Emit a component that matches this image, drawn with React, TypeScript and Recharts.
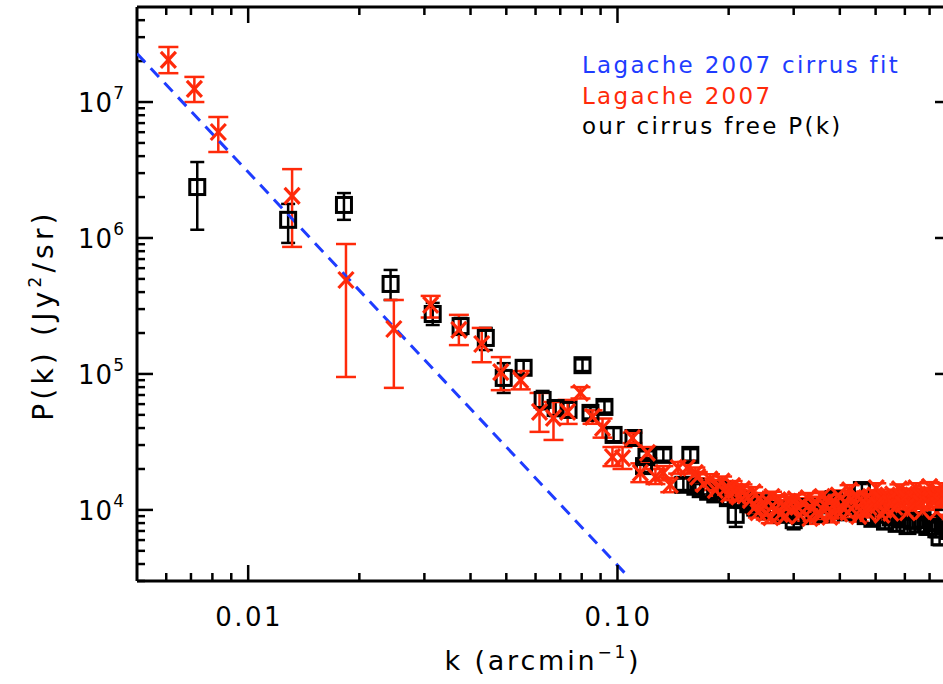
import React from "react";
import { ScatterChart, Scatter, XAxis, YAxis, ErrorBar, ReferenceLine } from "recharts";

const BLUE = "#1e3cff";
const RED = "#ff2a0a";
const FONT = "'DejaVu Sans', sans-serif";

// [k (arcmin^-1), P(k), lower bound, upper bound]
const lagacheMain = [
  [0.00608, 2.04e7, 1.63e7, 2.54e7],
  [0.00715, 1.25e7, 1.0e7, 1.53e7],
  [0.0083, 6.02e6, 4.29e6, 7.76e6],
  [0.01315, 2.04e6, 8.6e5, 3.21e6],
  [0.0184, 4.91e5, 9.5e4, 9.03e5],
  [0.0248, 2.14e5, 7.9e4, 3.5e5],
  [0.0312, 3.22e5, 2.6e5, 3.75e5],
  [0.0372, 2.11e5, 1.63e5, 2.72e5],
  [0.0429, 1.66e5, 1.22e5, 2.18e5],
  [0.0483, 1.03e5, 7.6e4, 1.33e5],
  [0.0547, 9.0e4, 7.7e4, 1.05e5],
  [0.0615, 5.26e4, 3.75e4, 7.25e4],
  [0.0671, 4.75e4, 3.27e4, 6.22e4],
  [0.0733, 5.26e4, 4.29e4, 6.44e4],
  [0.0794, 7.25e4, 6.6e4, 8.0e4],
  [0.0856, 4.83e4, 4.3e4, 5.4e4],
  [0.0911, 4.01e4, 3.4e4, 4.7e4],
  [0.0969, 2.45e4, 2.1e4, 2.9e4],
  [0.1032, 2.4e4, 2.0e4, 2.9e4],
  [0.1098, 3.38e4, 3.1e4, 3.7e4],
  [0.1153, 1.87e4, 1.6e4, 2.2e4],
  [0.1205, 2.63e4, 2.4e4, 2.9e4],
  [0.1267, 1.75e4, 1.55e4, 2.0e4],
  [0.1331, 1.87e4, 1.65e4, 2.1e4],
  [0.139, 1.53e4, 1.35e4, 1.72e4],
  [0.146, 2.04e4, 1.85e4, 2.25e4],
  [0.1546, 2.04e4, 1.85e4, 2.25e4],
  [0.1625, 1.87e4, 1.7e4, 2.05e4],
];

const lagacheCloud = [
  [0.165, 1.75e4, 1.6e4, 1.9e4],
  [0.171, 1.55e4, 1.4e4, 1.7e4],
  [0.178, 1.68e4, 1.53e4, 1.83e4],
  [0.184, 1.4e4, 1.27e4, 1.53e4],
  [0.188, 1.52e4, 1.38e4, 1.66e4],
  [0.192, 1.62e4, 1.48e4, 1.76e4],
  [0.197, 1.45e4, 1.32e4, 1.58e4],
  [0.2, 1.3e4, 1.18e4, 1.42e4],
  [0.205, 1.5e4, 1.37e4, 1.63e4],
  [0.208, 1.38e4, 1.26e4, 1.5e4],
  [0.213, 1.25e4, 1.14e4, 1.36e4],
  [0.218, 1.42e4, 1.3e4, 1.54e4],
  [0.222, 1.28e4, 1.17e4, 1.39e4],
  [0.229, 1.18e4, 1.07e4, 1.29e4],
  [0.233, 1.35e4, 1.23e4, 1.47e4],
  [0.236, 1.05e4, 9.5e3, 1.15e4],
  [0.24, 9.6e3, 8.8e3, 1.05e4],
  [0.242, 1.22e4, 1.11e4, 1.33e4],
  [0.247, 1.12e4, 1.02e4, 1.22e4],
  [0.252, 9.4e3, 8.5e3, 1.03e4],
  [0.256, 1.15e4, 1.05e4, 1.25e4],
  [0.26, 8.8e3, 8.0e3, 9.6e3],
  [0.262, 1.25e4, 1.14e4, 1.36e4],
  [0.268, 1.02e4, 9.3e3, 1.11e4],
  [0.272, 1.18e4, 1.08e4, 1.28e4],
  [0.276, 9.3e3, 8.4e3, 1.02e4],
  [0.282, 1.08e4, 9.8e3, 1.18e4],
  [0.285, 9.0e3, 8.2e3, 9.8e3],
  [0.29, 1.15e4, 1.05e4, 1.25e4],
  [0.296, 1.0e4, 9.1e3, 1.09e4],
  [0.303, 1.2e4, 1.1e4, 1.3e4],
  [0.308, 1.05e4, 9.6e3, 1.14e4],
  [0.312, 9.2e3, 8.3e3, 1.01e4],
  [0.318, 1.12e4, 1.02e4, 1.22e4],
  [0.328, 1.22e4, 1.11e4, 1.33e4],
  [0.332, 8.7e3, 7.9e3, 9.5e3],
  [0.336, 1.02e4, 9.3e3, 1.11e4],
  [0.343, 1.15e4, 1.05e4, 1.25e4],
  [0.35, 9.4e3, 8.5e3, 1.03e4],
  [0.355, 9.2e3, 8.4e3, 1.0e4],
  [0.358, 1.25e4, 1.14e4, 1.36e4],
  [0.364, 1.08e4, 9.8e3, 1.18e4],
  [0.372, 1.18e4, 1.08e4, 1.28e4],
  [0.376, 8.9e3, 8.1e3, 9.7e3],
  [0.38, 9.8e3, 8.9e3, 1.07e4],
  [0.388, 1.12e4, 1.02e4, 1.22e4],
  [0.396, 1.28e4, 1.17e4, 1.39e4],
  [0.4, 9.4e3, 8.6e3, 1.02e4],
  [0.405, 1.05e4, 9.6e3, 1.14e4],
  [0.413, 1.15e4, 1.05e4, 1.25e4],
  [0.421, 9.6e3, 8.7e3, 1.05e4],
  [0.425, 1.4e4, 1.28e4, 1.52e4],
  [0.43, 1.2e4, 1.1e4, 1.3e4],
  [0.44, 1.1e4, 1.0e4, 1.2e4],
  [0.447, 1.25e4, 1.14e4, 1.36e4],
  [0.45, 9.0e3, 8.2e3, 9.8e3],
  [0.454, 1.0e4, 9.1e3, 1.09e4],
  [0.462, 1.15e4, 1.05e4, 1.25e4],
  [0.471, 1.22e4, 1.11e4, 1.33e4],
  [0.475, 9.6e3, 8.8e3, 1.04e4],
  [0.48, 1.05e4, 9.6e3, 1.14e4],
  [0.489, 1.18e4, 1.08e4, 1.28e4],
  [0.498, 1.28e4, 1.17e4, 1.39e4],
  [0.502, 1.45e4, 1.33e4, 1.57e4],
  [0.507, 1.08e4, 9.8e3, 1.18e4],
  [0.517, 1.2e4, 1.1e4, 1.3e4],
  [0.52, 9.2e3, 8.4e3, 1.0e4],
  [0.527, 1.0e4, 9.1e3, 1.09e4],
  [0.537, 1.25e4, 1.14e4, 1.36e4],
  [0.547, 1.12e4, 1.02e4, 1.22e4],
  [0.55, 9.5e3, 8.7e3, 1.03e4],
  [0.556, 1.3e4, 1.19e4, 1.41e4],
  [0.564, 1.05e4, 9.6e3, 1.14e4],
  [0.574, 1.2e4, 1.1e4, 1.3e4],
  [0.58, 1.42e4, 1.3e4, 1.54e4],
  [0.582, 1.28e4, 1.17e4, 1.39e4],
  [0.593, 1.1e4, 1.0e4, 1.2e4],
  [0.604, 1.22e4, 1.11e4, 1.33e4],
  [0.61, 9.6e3, 8.8e3, 1.04e4],
  [0.615, 1.32e4, 1.21e4, 1.43e4],
  [0.627, 1.05e4, 9.6e3, 1.14e4],
  [0.639, 1.2e4, 1.1e4, 1.3e4],
  [0.643, 1.45e4, 1.33e4, 1.57e4],
  [0.651, 1.3e4, 1.19e4, 1.41e4],
  [0.663, 1.12e4, 1.02e4, 1.22e4],
  [0.67, 9.8e3, 9.0e3, 1.06e4],
  [0.676, 1.25e4, 1.14e4, 1.36e4],
  [0.688, 1.33e4, 1.22e4, 1.44e4],
  [0.7, 1.48e4, 1.36e4, 1.6e4],
  [0.702, 1.1e4, 1.0e4, 1.2e4],
  [0.715, 1.28e4, 1.17e4, 1.39e4],
  [0.728, 1.2e4, 1.1e4, 1.3e4],
  [0.732, 9.7e3, 8.9e3, 1.05e4],
  [0.74, 1.35e4, 1.23e4, 1.47e4],
  [0.748, 1.15e4, 1.05e4, 1.25e4],
  [0.76, 1.45e4, 1.33e4, 1.57e4],
  [0.765, 1.25e4, 1.14e4, 1.36e4],
  [0.785, 1.18e4, 1.08e4, 1.28e4],
  [0.79, 1.0e4, 9.2e3, 1.08e4],
];

const cirrusFreeMain = [
  [0.00728, 2.37e6, 1.15e6, 3.62e6],
  [0.01283, 1.36e6, 9.2e5, 1.78e6],
  [0.01817, 1.75e6, 1.36e6, 2.14e6],
  [0.0243, 4.59e5, 3.5e5, 5.82e5],
  [0.0316, 2.76e5, 2.29e5, 3.33e5],
  [0.0376, 2.25e5, 1.94e5, 2.58e5],
  [0.044, 1.84e5, 1.5e5, 2.18e5],
  [0.0492, 9.35e4, 7.25e4, 1.2e5],
  [0.0557, 1.11e5, 9.9e4, 1.25e5],
  [0.0627, 6.44e4, 5.5e4, 7.5e4],
  [0.068, 5.62e4, 4.9e4, 6.4e4],
  [0.0737, 5.44e4, 4.8e4, 6.2e4],
  [0.0804, 1.16e5, 1.05e5, 1.28e5],
  [0.0845, 5.17e4, 4.7e4, 5.7e4],
  [0.0922, 5.72e4, 5.2e4, 6.3e4],
  [0.0976, 3.56e4, 3.2e4, 4.0e4],
  [0.1105, 3.38e4, 3.0e4, 3.8e4],
  [0.118, 2.1e4, 1.9e4, 2.3e4],
  [0.1198, 2.45e4, 2.2e4, 2.7e4],
  [0.1331, 2.54e4, 2.3e4, 2.8e4],
  [0.1508, 1.53e4, 1.4e4, 1.7e4],
  [0.1575, 2.54e4, 2.3e4, 2.8e4],
  [0.1625, 1.48e4, 1.35e4, 1.62e4],
];

const cirrusFreeCloud = [
  [0.168, 1.42e4, 1.3e4, 1.55e4],
  [0.176, 1.36e4, 1.25e4, 1.48e4],
  [0.184, 1.3e4, 1.18e4, 1.42e4],
  [0.192, 1.4e4, 1.28e4, 1.52e4],
  [0.199, 1.22e4, 1.1e4, 1.34e4],
  [0.209, 9.2e3, 7.5e3, 1.05e4],
  [0.218, 1.18e4, 1.08e4, 1.3e4],
  [0.226, 1.1e4, 1.0e4, 1.2e4],
  [0.236, 1.04e4, 9.4e3, 1.14e4],
  [0.246, 1.12e4, 1.02e4, 1.22e4],
  [0.256, 9.8e3, 8.8e3, 1.08e4],
  [0.268, 1.0e4, 9.0e3, 1.1e4],
  [0.28, 9.2e3, 8.2e3, 1.02e4],
  [0.29, 9.5e3, 8.6e3, 1.04e4],
  [0.3, 8.4e3, 7.2e3, 9.4e3],
  [0.312, 9.0e3, 8.1e3, 9.9e3],
  [0.325, 1.05e4, 9.6e3, 1.15e4],
  [0.34, 1.0e4, 9.0e3, 1.1e4],
  [0.355, 9.3e3, 8.4e3, 1.02e4],
  [0.37, 1.08e4, 9.8e3, 1.18e4],
  [0.385, 1.2e4, 1.1e4, 1.3e4],
  [0.4, 1.05e4, 9.5e3, 1.15e4],
  [0.415, 9.6e3, 8.7e3, 1.05e4],
  [0.43, 1.1e4, 1.0e4, 1.2e4],
  [0.459, 1.4e4, 1.25e4, 1.55e4],
  [0.47, 9.0e3, 8.0e3, 1.0e4],
  [0.49, 8.6e3, 7.7e3, 9.5e3],
  [0.51, 9.2e3, 8.3e3, 1.01e4],
  [0.53, 8.2e3, 7.3e3, 9.1e3],
  [0.55, 8.8e3, 7.9e3, 9.7e3],
  [0.57, 7.9e3, 7.0e3, 8.8e3],
  [0.59, 8.5e3, 7.6e3, 9.4e3],
  [0.61, 7.6e3, 6.7e3, 8.5e3],
  [0.63, 8.3e3, 7.4e3, 9.2e3],
  [0.65, 7.8e3, 6.9e3, 8.7e3],
  [0.67, 8.4e3, 7.5e3, 9.3e3],
  [0.69, 7.5e3, 6.6e3, 8.4e3],
  [0.71, 8.0e3, 7.1e3, 8.9e3],
  [0.73, 7.2e3, 6.3e3, 8.1e3],
  [0.745, 6.3e3, 5.5e3, 7.1e3],
  [0.77, 7.6e3, 6.8e3, 8.5e3],
  [0.79, 7.0e3, 6.2e3, 7.8e3],
];

// Lagache 2007 cirrus power-law fit, two end points
const fitK = [0.005, 0.105];
const fitP = [2.27e7, 3.4e3];

const xDomain = [0.005, 0.8];
const yDomain = [3000, 5e7];
const xMajor = [0.01, 0.1];
const xMajorLabels = ["0.01", "0.10"];
const xMinor = [0.006, 0.007, 0.008, 0.009, 0.02, 0.03, 0.04, 0.05, 0.06, 0.07, 0.08, 0.09, 0.2, 0.3, 0.4, 0.5, 0.6, 0.7];
const yMajor = [1e4, 1e5, 1e6, 1e7];
const yExponents = ["4", "5", "6", "7"];
const yMinor = [
  3e3, 4e3, 5e3, 6e3, 7e3, 8e3, 9e3,
  2e4, 3e4, 4e4, 5e4, 6e4, 7e4, 8e4, 9e4,
  2e5, 3e5, 4e5, 5e5, 6e5, 7e5, 8e5, 9e5,
  2e6, 3e6, 4e6, 5e6, 6e6, 7e6, 8e6, 9e6,
  2e7, 3e7, 4e7,
];

const toPoints = (rows: number[][]) =>
  rows.map(([k, p, lo, hi]) => ({ k, p, err: [p - lo, hi - p] }));

const redData = toPoints([...lagacheMain, ...lagacheCloud]);
const blackData = toPoints([...cirrusFreeMain, ...cirrusFreeCloud]);
const fitData = fitK.map((k, i) => ({ k, p: fitP[i] }));

// chart frame
const CHART_W = 960;
const CHART_H = 684;
const M_TOP = 7;
const M_RIGHT = 9;
const X_AXIS_H = 103;
const Y_AXIS_W = 137;
const PLOT_RIGHT = CHART_W - M_RIGHT;
const PLOT_W = PLOT_RIGHT - Y_AXIS_W;
const PLOT_H = CHART_H - M_TOP - X_AXIS_H;
const MAJOR_LEN = 16;
const MINOR_LEN = 8;

// minor tick length expressed as a ratio along each log axis
const xMinorRatio = Math.pow(xDomain[1] / xDomain[0], MINOR_LEN / PLOT_W);
const yMinorRatio = Math.pow(yDomain[1] / yDomain[0], MINOR_LEN / PLOT_H);

// major ticks: drawn by the axis, mirrored onto the top frame
const BottomTick = (props: any) => {
  const { x, y, payload } = props;
  const i = xMajor.indexOf(payload.value);
  if (i < 0) return <g />;
  return (
    <g>
      <line x1={x} y1={y} x2={x} y2={y - MAJOR_LEN} stroke="#000" strokeWidth={2.5} />
      <line x1={x} y1={M_TOP} x2={x} y2={M_TOP + MAJOR_LEN} stroke="#000" strokeWidth={2.5} />
      <text x={x + 1} y={y + 45} textAnchor="middle" fontSize={26} fontFamily={FONT} letterSpacing={2.5} fill="#000">
        {xMajorLabels[i]}
      </text>
    </g>
  );
};

// major ticks: drawn by the axis, mirrored onto the right frame
const LeftTick = (props: any) => {
  const { x, y, payload } = props;
  const i = yMajor.indexOf(payload.value);
  if (i < 0) return <g />;
  return (
    <g>
      <line x1={x} y1={y} x2={x + MAJOR_LEN} y2={y} stroke="#000" strokeWidth={2.5} />
      <line x1={PLOT_RIGHT} y1={y} x2={PLOT_RIGHT - MAJOR_LEN} y2={y} stroke="#000" strokeWidth={2.5} />
      <text x={x - 12} y={y + 10} textAnchor="end" fontSize={26} fontFamily={FONT} letterSpacing={1} fill="#000">
        10
        <tspan dy={-13} fontSize={17}>
          {yExponents[i]}
        </tspan>
      </text>
    </g>
  );
};

const SquareMark = ({ cx, cy }: any) => (
  <rect x={cx - 7.5} y={cy - 7.5} width={15} height={15} fill="none" stroke="#000" strokeWidth={3} />
);

const CrossMark = ({ cx, cy }: any) => (
  <g stroke={RED} strokeWidth={3.2}>
    <line x1={cx - 7.5} y1={cy - 8} x2={cx + 7.5} y2={cy + 8} />
    <line x1={cx - 7.5} y1={cy + 8} x2={cx + 7.5} y2={cy - 8} />
  </g>
);

const tickStroke = { stroke: "#000", strokeWidth: 2.5 };

export default function App() {
  return (
    <div style={{ position: "absolute", left: 0, top: 0, width: 943, height: 684, overflow: "hidden", background: "#fff" }}>
      <ScatterChart width={CHART_W} height={CHART_H} margin={{ top: M_TOP, right: M_RIGHT, bottom: 0, left: 0 }}>
        <XAxis
          dataKey="k"
          type="number"
          scale="log"
          domain={xDomain}
          allowDataOverflow
          ticks={xMajor}
          interval={0}
          tick={BottomTick}
          tickLine={false}
          tickSize={0}
          tickMargin={0}
          axisLine={{ stroke: "#000", strokeWidth: 3 }}
          height={X_AXIS_H}
        />
        <YAxis
          dataKey="p"
          type="number"
          scale="log"
          domain={yDomain}
          allowDataOverflow
          ticks={yMajor}
          interval={0}
          tick={LeftTick}
          tickLine={false}
          tickSize={0}
          tickMargin={0}
          axisLine={{ stroke: "#000", strokeWidth: 3 }}
          width={Y_AXIS_W}
        />
        <ReferenceLine y={yDomain[1]} stroke="#000" strokeWidth={3} />
        <ReferenceLine x={xDomain[1]} stroke="#000" strokeWidth={3} />
        {xMinor.map((v) => (
          <ReferenceLine
            key={`xb-${v}`}
            segment={[{ x: v, y: yDomain[0] }, { x: v, y: yDomain[0] * yMinorRatio }]}
            {...tickStroke}
          />
        ))}
        {xMinor.map((v) => (
          <ReferenceLine
            key={`xt-${v}`}
            segment={[{ x: v, y: yDomain[1] }, { x: v, y: yDomain[1] / yMinorRatio }]}
            {...tickStroke}
          />
        ))}
        {yMinor.map((v) => (
          <ReferenceLine
            key={`yl-${v}`}
            segment={[{ x: xDomain[0], y: v }, { x: xDomain[0] * xMinorRatio, y: v }]}
            {...tickStroke}
          />
        ))}
        {yMinor.map((v) => (
          <ReferenceLine
            key={`yr-${v}`}
            segment={[{ x: xDomain[1], y: v }, { x: xDomain[1] / xMinorRatio, y: v }]}
            {...tickStroke}
          />
        ))}
        <Scatter
          data={fitData}
          line={{ stroke: BLUE, strokeWidth: 3, strokeDasharray: "12 8" }}
          shape={() => <g />}
          isAnimationActive={false}
        />
        <Scatter data={blackData} shape={SquareMark} isAnimationActive={false}>
          <ErrorBar dataKey="err" direction="y" width={7} stroke="#000" strokeWidth={2.5} isAnimationActive={false} />
        </Scatter>
        <Scatter data={redData} shape={CrossMark} isAnimationActive={false}>
          <ErrorBar dataKey="err" direction="y" width={10} stroke={RED} strokeWidth={2.5} isAnimationActive={false} />
        </Scatter>
      </ScatterChart>
      <svg width={943} height={684} style={{ position: "absolute", left: 0, top: 0, pointerEvents: "none", whiteSpace: "pre" }}>
        <g fontFamily={FONT} fontSize={23} letterSpacing={2.3}>
          <text x={582} y={73} fill={BLUE}>Lagache 2007 cirrus fit</text>
          <text x={582} y={104} fill={RED}>Lagache 2007</text>
          <text x={582} y={134} fill="#000">our cirrus free P(k)</text>
        </g>
        <text x={543} y={670} textAnchor="middle" fontFamily={FONT} fontSize={27} letterSpacing={2.8} fill="#000">
          {"k  (arcmin"}
          <tspan dy={-12} fontSize={17}>−1</tspan>
          <tspan dy={12}>)</tspan>
        </text>
        <text
          transform="translate(53 315) rotate(-90)"
          textAnchor="middle"
          fontFamily={FONT}
          fontSize={28}
          letterSpacing={4.2}
          fill="#000"
        >
          {"P(k)  (Jy"}
          <tspan dy={-12} fontSize={17}>2</tspan>
          <tspan dy={12}>/sr)</tspan>
        </text>
      </svg>
    </div>
  );
}
